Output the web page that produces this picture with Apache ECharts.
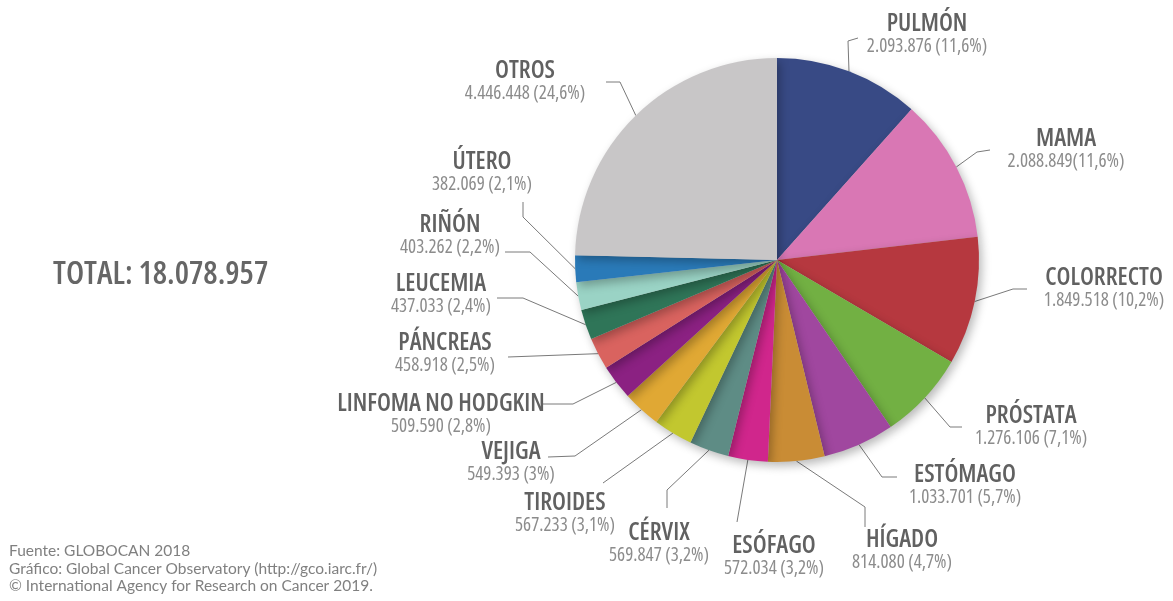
<!DOCTYPE html>
<html>
<head>
<meta charset="utf-8">
<title>Casos de cáncer en el mundo 2018</title>
<script src="https://cdn.jsdelivr.net/npm/echarts@6/dist/echarts.min.js"></script>
<style>
  html, body { margin: 0; padding: 0; background: #ffffff; }
  #chart { width: 1173px; height: 601px; }
</style>
</head>
<body>
<div id="chart"></div>
<script>
// Cancer sites, clockwise from twelve o'clock
const sites = [
  'PULMÓN', 'MAMA', 'COLORRECTO', 'PRÓSTATA', 'ESTÓMAGO', 'HÍGADO',
  'ESÓFAGO', 'CÉRVIX', 'TIROIDES', 'VEJIGA', 'LINFOMA NO HODGKIN',
  'PÁNCREAS', 'LEUCEMIA', 'RIÑÓN', 'ÚTERO', 'OTROS'
];

// New cases per site
const cases = [
  2093876, 2088849, 1849518, 1276106, 1033701, 814080,
  572034, 569847, 567233, 549393, 509590,
  458918, 437033, 403262, 382069, 4446448
];

// Share text printed after each count
const shares = [
  ' (11,6%)', '(11,6%)', ' (10,2%)', ' (7,1%)', ' (5,7%)', ' (4,7%)',
  ' (3,2%)', ' (3,2%)', ' (3,1%)', ' (3%)', ' (2,8%)',
  ' (2,5%)', ' (2,4%)', ' (2,2%)', ' (2,1%)', ' (24,6%)'
];

const totalCases = '18.078.957';

const sourceLines = [
  'Fuente: GLOBOCAN 2018',
  'Gráfico: Global Cancer Observatory (http://gco.iarc.fr/)',
  '© International Agency for Research on Cancer 2019.'
];

// Slice colours, same order as sites
const sliceColors = [
  '#384a85', '#d977b4', '#b6383f', '#72b043', '#a0479f', '#c98c35',
  '#d0268c', '#5e8c85', '#c2c72f', '#e0a834', '#8b2182',
  '#d9635f', '#2f7558', '#9ad3c5', '#2a7ab8', '#c8c6c7'
];

// Label placement: centre x, centre y of the name line, and the bends of the
// leader line after it leaves the slice edge.
const labelSpots = [
  { x: 927,  ty: 24,  bends: [[848, 41], [858, 38]] },
  { x: 1066, ty: 139, bends: [[977, 152], [990, 150]] },
  { x: 1104, ty: 278, bends: [[1013, 289], [1027, 289]] },
  { x: 1031, ty: 416, bends: [[950, 427], [962, 427]] },
  { x: 965,  ty: 475, bends: [[882, 477], [897, 477]] },
  { x: 902,  ty: 540, bends: [[865, 507], [865, 527]] },
  { x: 774,  ty: 546, bends: [[737, 522]] },
  { x: 659,  ty: 533, bends: [[667, 490], [667, 508]] },
  { x: 565,  ty: 503, bends: [[603, 483]] },
  { x: 511,  ty: 452, bends: [[575, 456], [548, 457]] },
  { x: 441,  ty: 404, bends: [[573, 404], [541, 404]] },
  { x: 445,  ty: 343, bends: [[508, 357]] },
  { x: 441,  ty: 284, bends: [[523, 298], [497, 298]] },
  { x: 450,  ty: 225, bends: [[530, 252], [505, 252]] },
  { x: 482,  ty: 162, bends: [[523, 217], [523, 202]] },
  { x: 525,  ty: 71,  bends: [[620, 82], [606, 82]] }
];

// Open Sans has a width axis; 'condensed' picks its narrow cut
const NARROW = "'Open Sans', 'Roboto Condensed', sans-serif";
const PLAIN = "Lato, 'Noto Sans', sans-serif";
const LINE_GAP = 23;

function thousands(n) {
  return String(n).replace(/\B(?=(\d{3})+(?!\d))/g, '.');
}

const pieData = sites.map((name, i) => ({
  name: name,
  value: cases[i],
  itemStyle: { color: sliceColors[i] }
}));

const chart = echarts.init(document.getElementById('chart'), null, { renderer: 'canvas' });

chart.setOption({
  backgroundColor: '#ffffff',
  animation: false,
  graphic: [
    {
      type: 'text',
      x: 53, y: 275,
      style: {
        text: 'TOTAL: ' + totalCases,
        fontStyle: 'condensed',
        fontWeight: 600,
        fontSize: 32,
        fontFamily: NARROW,
        fill: '#666666',
        verticalAlign: 'middle'
      }
    }
  ].concat(sourceLines.map((line, i) => ({
    type: 'text',
    x: 9, y: 551 + i * 17.5,
    style: {
      text: line,
      fontSize: 15.5,
      fontFamily: PLAIN,
      fill: '#808080',
      verticalAlign: 'middle'
    }
  }))),
  series: [
    {
      type: 'pie',
      center: [777, 260],
      radius: 202,
      startAngle: 90,
      clockwise: true,
      avoidLabelOverlap: false,
      data: pieData,
      itemStyle: {
        borderWidth: 0,
        shadowBlur: 10,
        shadowOffsetX: 3,
        shadowOffsetY: 4,
        shadowColor: 'rgba(0, 0, 0, 0.28)'
      },
      emphasis: { disabled: true },
      label: {
        show: true,
        position: 'outside',
        overflow: 'none',
        formatter: (p) => '{t|' + p.name + '}\n{v|' + thousands(p.value) + shares[p.dataIndex] + '}',
        rich: {
          t: {
            fontFamily: NARROW, fontStyle: 'condensed', fontWeight: 600, fontSize: 24.5,
            color: '#616161', lineHeight: LINE_GAP, align: 'center'
          },
          v: {
            fontFamily: NARROW, fontStyle: 'condensed', fontWeight: 400, fontSize: 19,
            color: '#8c8c8c', lineHeight: LINE_GAP, align: 'center'
          }
        }
      },
      labelLine: {
        show: true,
        length: 12,
        length2: 12,
        smooth: false,
        lineStyle: { color: '#7a7a7a', width: 1 }
      },
      labelLayout: function (p) {
        const spot = labelSpots[p.dataIndex];
        const pts = [];
        if (p.labelLinePoints && p.labelLinePoints.length) {
          pts.push([p.labelLinePoints[0][0], p.labelLinePoints[0][1]]);
        }
        return {
          x: spot.x,
          y: spot.ty - LINE_GAP / 2,
          align: 'center',
          verticalAlign: 'top',
          labelLinePoints: pts.concat(spot.bends)
        };
      }
    }
  ]
});
</script>
</body>
</html>
